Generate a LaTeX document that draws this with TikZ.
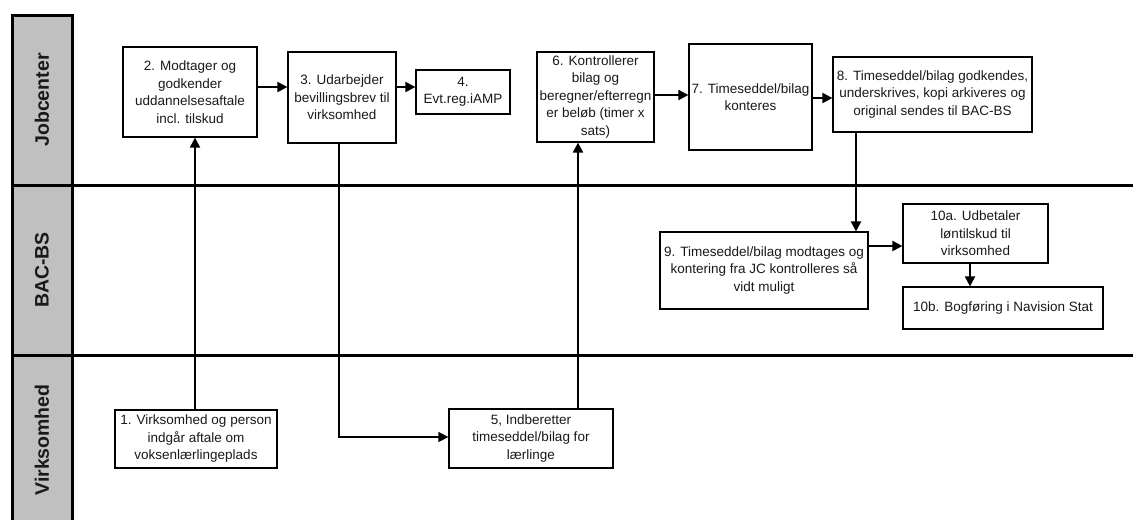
\documentclass[tikz,border=0pt]{standalone}
\usepackage{fontspec}
\setmainfont{Liberation Sans}
\usetikzlibrary{arrows.meta}
\definecolor{bandgray}{RGB}{192,192,192}
\definecolor{txt}{RGB}{25,25,25}
\tikzset{
  box/.style={draw=black, line width=1.2pt, fill=white, inner sep=0pt, align=center,
    text=txt, font=\fontsize{13.5}{17.5}\selectfont},
  arr/.style={line width=2pt, -{Triangle[length=10pt,width=10pt]}},
  thinarr/.style={line width=1.2pt, -{Triangle[length=10pt,width=10pt]}},
  lane/.style={line width=3pt},
  lanelabel/.style={rotate=90, font=\fontsize{19.5}{22}\selectfont\bfseries, text=txt}
}
\begin{document}
\begin{tikzpicture}[x=1pt,y=-1pt]
\useasboundingbox (0,0) rectangle (1133,520);
% band
\fill[bandgray] (12,15) rectangle (72,520);
\draw[line width=3pt] (12,520) -- (12,15) -- (72,15) -- (72,520);
\draw[lane] (12,185) -- (1133,185);
\draw[lane] (12,355) -- (1133,355);
\node[lanelabel] (lJC) at (42,100) {Jobcenter};
\node[lanelabel] (lBAC) at (42,270) {BAC-BS};
\node[lanelabel] (lV) at (42,440) {Virksomhed};
% boxes
\node[box, minimum width=134pt, minimum height=90pt] (b2) at (190,92) {2. Modtager og\\godkender\\uddannelsesaftale\\incl. tilskud};
\node[box, minimum width=108pt, minimum height=91pt] (b3) at (342,97.5) {3. Udarbejder\\bevillingsbrev til\\virksomhed};
\node[box, minimum width=94pt, minimum height=44pt] (b4) at (463,92) {4.\\Evt.reg.iAMP};
\node[box, minimum width=117pt, minimum height=90pt] (b6) at (595.5,97) {6. Kontrollerer\\bilag og\\beregner/efterregn\\er beløb (timer x\\sats)};
\node[box, minimum width=123pt, minimum height=106pt] (b7) at (750.5,97) {7. Timeseddel/bilag\\konteres};
\node[box, minimum width=199pt, minimum height=75pt] (b8) at (932.5,94.5) {8. Timeseddel/bilag godkendes,\\underskrives, kopi arkiveres og\\original sendes til BAC-BS};
\node[box, minimum width=208pt, minimum height=77pt] (b9) at (764,270.5) {9. Timeseddel/bilag modtages og\\kontering fra JC kontrolleres så\\vidt muligt};
\node[box, minimum width=145pt, minimum height=59pt] (b10a) at (975.5,233.5) {10a. Udbetaler\\løntilskud til\\virksomhed};
\node[box, minimum width=200pt, minimum height=42pt] (b10b) at (1003,308) {10b. Bogføring i Navision Stat};
\node[box, minimum width=162pt, minimum height=58pt] (b1) at (196,439) {1. Virksomhed og person\\indgår aftale om\\voksenlærlingeplads};
\node[box, minimum width=164pt, minimum height=59pt] (b5) at (531,438.5) {5, Indberetter\\timeseddel/bilag for\\lærlinge};
% connectors
\draw[arr] (b1.north -| 195,0) -- (b2.south -| 195,0);
\draw[arr] (b2.east |- 0,87) -- (b3.west |- 0,87);
\draw[arr] (b3.east |- 0,87) -- (b4.west |- 0,87);
\draw[thinarr] (b3.south -| 339,0) |- (b5.west |- 0,437);
\draw[arr] (b5.north -| 578,0) -- (b6.south -| 578,0);
\draw[arr] (b6.east |- 0,95) -- (b7.west |- 0,95);
\draw[arr] (b7.east |- 0,98) -- (b8.west |- 0,98);
\draw[arr] (b8.south -| 856,0) -- (b9.north -| 856,0);
\draw[arr] (b9.east |- 0,246) -- (b10a.west |- 0,246);
\draw[arr] (b10a.south -| 970,0) -- (b10b.north -| 970,0);
\end{tikzpicture}
\end{document}
